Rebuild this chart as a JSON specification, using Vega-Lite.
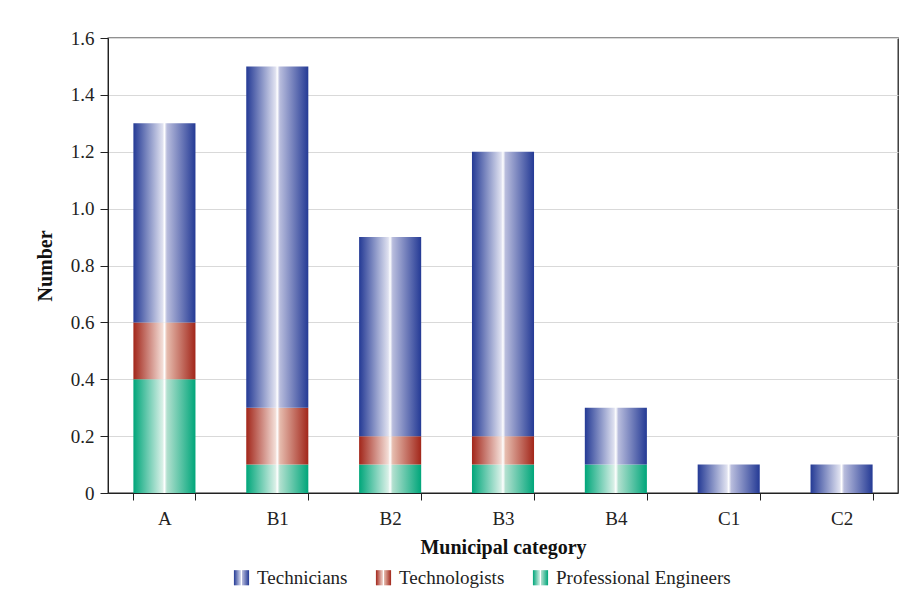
{
  "$schema": "https://vega.github.io/schema/vega-lite/v6.json",
  "width": 790,
  "height": 455,
  "autosize": {"type": "none"},
  "padding": {"left": 108, "top": 38, "right": 19, "bottom": 118},
  "background": "white",
  "params": [
    {"name": "gT", "value": {"gradient": "linear", "x1": 0, "y1": 0, "x2": 1, "y2": 0, "stops": [
      {"offset": 0, "color": "#243a95"}, {"offset": 0.47, "color": "#dfe1f0"}, {"offset": 0.5, "color": "#ffffff"}, {"offset": 0.54, "color": "#b9bddd"}, {"offset": 1, "color": "#243a95"}]}},
    {"name": "gL", "value": {"gradient": "linear", "x1": 0, "y1": 0, "x2": 1, "y2": 0, "stops": [
      {"offset": 0, "color": "#a2261a"}, {"offset": 0.47, "color": "#f3ddd6"}, {"offset": 0.5, "color": "#ffffff"}, {"offset": 0.54, "color": "#e6bcae"}, {"offset": 1, "color": "#a2261a"}]}},
    {"name": "gP", "value": {"gradient": "linear", "x1": 0, "y1": 0, "x2": 1, "y2": 0, "stops": [
      {"offset": 0, "color": "#00a67a"}, {"offset": 0.47, "color": "#d9f0e7"}, {"offset": 0.5, "color": "#ffffff"}, {"offset": 0.54, "color": "#b2e0cf"}, {"offset": 1, "color": "#00a67a"}]}}
  ],
  "config": {
    "font": "Liberation Serif",
    "view": {"stroke": "#222222", "strokeWidth": 1.3},
    "axis": {
      "domainColor": "#222222",
      "tickColor": "#222222",
      "labelColor": "#222222",
      "titleColor": "#111111",
      "labelFontSize": 19,
      "titleFontSize": 20,
      "titleFontWeight": "bold",
      "labelFont": "Liberation Serif",
      "titleFont": "Liberation Serif"
    },
    "legend": {
      "labelFont": "Liberation Serif",
      "labelFontSize": 19,
      "labelColor": "#222222",
      "labelLimit": 400
    }
  },
  "data": {
    "values": [
      {"cat": "A", "role": "Professional Engineers", "ord": 1, "value": 0.4},
      {"cat": "A", "role": "Technologists", "ord": 2, "value": 0.2},
      {"cat": "A", "role": "Technicians", "ord": 3, "value": 0.7},
      {"cat": "B1", "role": "Professional Engineers", "ord": 1, "value": 0.1},
      {"cat": "B1", "role": "Technologists", "ord": 2, "value": 0.2},
      {"cat": "B1", "role": "Technicians", "ord": 3, "value": 1.2},
      {"cat": "B2", "role": "Professional Engineers", "ord": 1, "value": 0.1},
      {"cat": "B2", "role": "Technologists", "ord": 2, "value": 0.1},
      {"cat": "B2", "role": "Technicians", "ord": 3, "value": 0.7},
      {"cat": "B3", "role": "Professional Engineers", "ord": 1, "value": 0.1},
      {"cat": "B3", "role": "Technologists", "ord": 2, "value": 0.1},
      {"cat": "B3", "role": "Technicians", "ord": 3, "value": 1.0},
      {"cat": "B4", "role": "Professional Engineers", "ord": 1, "value": 0.1},
      {"cat": "B4", "role": "Technicians", "ord": 3, "value": 0.2},
      {"cat": "C1", "role": "Technicians", "ord": 3, "value": 0.1},
      {"cat": "C2", "role": "Technicians", "ord": 3, "value": 0.1}
    ]
  },
  "encoding": {
    "x": {
      "field": "cat",
      "type": "nominal",
      "sort": ["A", "B1", "B2", "B3", "B4", "C1", "C2"],
      "scale": {"paddingInner": 0.45, "paddingOuter": 0.225},
      "axis": {
        "title": "Municipal category",
        "labelAngle": 0,
        "tickBand": "extent",
        "tickSize": 7,
        "labelPadding": 9,
        "titlePadding": 9,
        "grid": false
      }
    }
  },
  "layer": [
    {
      "mark": {"type": "bar"},
      "encoding": {
        "y": {
          "field": "value",
          "type": "quantitative",
          "stack": "zero",
          "scale": {"domain": [0, 1.6], "nice": false},
          "axis": {
            "title": "Number",
            "values": [0, 0.2, 0.4, 0.6, 0.8, 1.0, 1.2, 1.4, 1.6],
            "labelExpr": "datum.value == 0 ? '0' : format(datum.value, '.1f')",
            "tickSize": 8,
            "labelPadding": 6,
            "titlePadding": 15,
            "gridColor": "#d9d9d9",
            "gridWidth": 1.2
          }
        },
        "fill": {
          "condition": [
            {"test": "datum.role == 'Technicians'", "value": {"expr": "gT"}},
            {"test": "datum.role == 'Technologists'", "value": {"expr": "gL"}}
          ],
          "value": {"expr": "gP"}
        },
        "order": {"field": "ord"}
      }
    },
    {
      "mark": {"type": "point", "filled": true, "opacity": 0},
      "encoding": {
        "y": {"field": "value", "type": "quantitative", "stack": null},
        "fill": {"value": {"expr": "(datum.role || datum.value) == 'Technicians' ? gT : (datum.role || datum.value) == 'Technologists' ? gL : gP"}},
        "stroke": {
          "field": "role",
          "type": "nominal",
          "scale": {
            "domain": ["Technicians", "Technologists", "Professional Engineers"],
            "range": ["#243a95", "#a2261a", "#00a67a"]
          },
          "legend": {
            "title": null,
            "orient": "none",
            "legendX": 124,
            "legendY": 530,
            "direction": "horizontal",
            "symbolType": "square",
            "symbolSize": 230,
            "symbolOpacity": 1,
            "symbolStrokeWidth": 0,
            "labelFontSize": 19,
            "labelFont": "Liberation Serif",
            "labelColor": "#222222",
            "labelLimit": 400,
            "labelOffset": 6,
            "columnPadding": 26
          }
        }
      }
    }
  ]
}
